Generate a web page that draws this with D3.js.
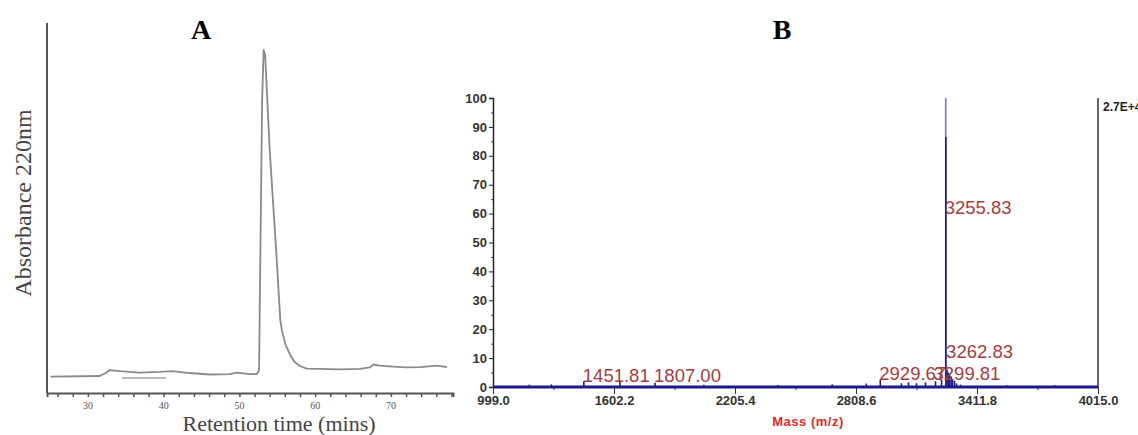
<!DOCTYPE html>
<html>
<head>
<meta charset="utf-8">
<script src="https://cdn.jsdelivr.net/npm/d3@7"></script>
<style>
  html, body { margin: 0; padding: 0; background: #fff; }
  svg { display: block; }
</style>
</head>
<body>
<svg id="fig" width="1138" height="435"></svg>
<script>
// ---- Panel A: HPLC chromatogram (absorbance at 220 nm vs retention time) ----
const retentionTime = [25.07, 31.56, 32.35, 32.9, 34.2, 36.8, 39.5, 41.1, 43.4, 46.1, 48.7, 49.7, 51.4, 52.3,
  52.6, 52.7, 52.85, 53.0, 53.2, 53.4, 54.0, 54.85, 55.4, 55.6, 56.1, 56.7, 57.3, 58.0, 58.9, 60.6,
  63.3, 65.9, 67.2, 67.7, 68.5, 69.8, 71.9, 73.9, 76.1, 77.4];
const absorbance = [4.4, 4.6, 5.4, 6.2, 5.9, 5.5, 5.7, 5.9, 5.4, 5.0, 5.1, 5.5, 5.1, 5.1,
  6.2, 25, 52, 79, 92.7, 91.4, 65.7, 38.6, 19.7, 17, 13, 10.3, 8.4, 7.3, 6.6, 6.5,
  6.4, 6.5, 6.9, 7.7, 7.4, 7.2, 6.9, 7.0, 7.4, 7.0];
const timeTickLabels = [30, 40, 50, 60, 70];
const timeMinorTicks = d3.range(26, 79, 2);
const baselineMarkTime = [34.5, 40.3];
const baselineMarkLevel = 4.05;

// ---- Panel B: mass spectrum (relative intensity vs m/z) ----
const massTickLabels = ["999.0", "1602.2", "2205.4", "2808.6", "3411.8", "4015.0"];
const intensityTicks = [0, 10, 20, 30, 40, 50, 60, 70, 80, 90, 100];
const peakMz = [1180, 1290, 1451.81, 1632, 1807.00, 2050, 2420, 2690, 2860, 2929.67, 3035, 3070, 3110,
  3155, 3205, 3235, 3262.83, 3268, 3275, 3283, 3290, 3299.81, 3310, 3330, 3560, 3800];
const peakIntensity = [0.8, 0.9, 2.0, 1.8, 1.5, 0.8, 0.7, 0.9, 1.2, 2.5, 1.3, 1.6, 1.3,
  1.6, 2.0, 2.6, 6.0, 5.0, 4.6, 3.6, 2.8, 2.2, 1.2, 0.8, 0.6, 0.6];
const basePeakMz = 3255.83;
const basePeakIntensity = 100;
const shoulderMz = 3256.6;
const shoulderIntensity = 86.5;
const labelMz = [1451.81, 1807.00, 2929.67, 3299.81, 3262.83, 3255.83];
const labelLevel = [1.7, 1.7, 2.4, 2.4, 10, 60];
const scaleNote = "2.7E+4";

const svg = d3.select("#fig");

// ================= Panel A =================
const xA = d3.scaleLinear().domain([24.6, 78.2]).range([47, 453]);
const yA = d3.scaleLinear().domain([0, 100]).range([393, 23]);
const gA = svg.append("g");

gA.append("line").attr("x1", xA(24.6)).attr("x2", xA(24.6))
  .attr("y1", yA(100)).attr("y2", yA(0))
  .attr("stroke", "#555").attr("stroke-width", 2);

const axA = gA.append("g").attr("transform", `translate(0,${yA(0)})`)
  .call(d3.axisBottom(xA).tickValues(timeMinorTicks).tickSize(4).tickFormat(""));
axA.select(".domain").attr("stroke", "#555").attr("stroke-width", 2);
axA.selectAll(".tick line").attr("stroke", "#555").attr("stroke-width", 1.5);

gA.append("g").selectAll("text").data(timeTickLabels).join("text")
  .attr("x", d => xA(d)).attr("y", 409)
  .attr("text-anchor", "middle")
  .attr("font-family", "Liberation Serif, serif").attr("font-size", 10)
  .attr("fill", "#555").text(d => d);

gA.append("path")
  .datum(d3.zip(retentionTime, absorbance))
  .attr("fill", "none").attr("stroke", "#8a8a8a").attr("stroke-width", 1.8)
  .attr("stroke-linejoin", "round")
  .attr("d", d3.line().x(d => xA(d[0])).y(d => yA(d[1])));

gA.append("line")
  .attr("x1", xA(baselineMarkTime[0])).attr("x2", xA(baselineMarkTime[1]))
  .attr("y1", yA(baselineMarkLevel)).attr("y2", yA(baselineMarkLevel))
  .attr("stroke", "#777").attr("stroke-width", 1);

gA.append("text").attr("x", 201).attr("y", 39).attr("text-anchor", "middle")
  .attr("font-family", "Liberation Serif, serif").attr("font-weight", "bold")
  .attr("font-size", 28).attr("fill", "#000").text("A");

gA.append("text").attr("transform", "translate(31,203) rotate(-90)")
  .attr("text-anchor", "middle")
  .attr("font-family", "Liberation Serif, serif").attr("font-size", 24)
  .attr("fill", "#444").text("Absorbance 220nm");

gA.append("text").attr("x", 279).attr("y", 431).attr("text-anchor", "middle")
  .attr("font-family", "Liberation Serif, serif").attr("font-size", 22)
  .attr("fill", "#444").text("Retention time (mins)");

// ================= Panel B =================
const xB = d3.scaleLinear().domain([999.0, 4015.0]).range([493, 1098]);
const yB = d3.scaleLinear().domain([0, 100]).range([387, 98]);
const gB = svg.append("g");

// left intensity axis
const axBy = gB.append("g").attr("transform", `translate(${xB(999)},0)`)
  .call(d3.axisLeft(yB).tickValues(intensityTicks).tickSize(4).tickPadding(2).tickFormat(d3.format("d")));
axBy.select(".domain").attr("stroke", "#222").attr("stroke-width", 1.5);
axBy.selectAll(".tick line").attr("stroke", "#222");
axBy.selectAll(".tick text").attr("font-family", "Liberation Sans, Arial, sans-serif")
  .attr("font-weight", "bold").attr("font-size", 13).attr("fill", "#333");
gB.append("g").attr("transform", `translate(${xB(999)},0)`)
  .call(d3.axisLeft(yB).tickValues(d3.range(5, 100, 10)).tickSize(2).tickFormat(""))
  .call(g => g.select(".domain").remove())
  .selectAll("line").attr("stroke", "#444");

// right frame line
gB.append("line").attr("x1", xB(4015)).attr("x2", xB(4015))
  .attr("y1", yB(100)).attr("y2", yB(0))
  .attr("stroke", "#333").attr("stroke-width", 1.5);

// mass axis
const massVals = massTickLabels.map(Number);
const axBx = gB.append("g").attr("transform", `translate(0,${yB(0)})`)
  .call(d3.axisBottom(xB).tickValues(massVals).tickSize(7).tickPadding(2).tickFormat((d, i) => massTickLabels[i]));
axBx.select(".domain").remove();
axBx.selectAll(".tick line").attr("stroke", "#333");
axBx.selectAll(".tick text").attr("font-family", "Liberation Sans, Arial, sans-serif")
  .attr("font-weight", "bold").attr("font-size", 13).attr("fill", "#333");
const minorMass = d3.range(5).map(i => (massVals[i] + massVals[i + 1]) / 2);
gB.append("g").attr("transform", `translate(0,${yB(0)})`)
  .call(d3.axisBottom(xB).tickValues(minorMass).tickSize(3).tickFormat(""))
  .call(g => g.select(".domain").remove())
  .selectAll("line").attr("stroke", "#333");

// spectrum: small peaks, base line, main peak
gB.append("g").selectAll("line").data(d3.zip(peakMz, peakIntensity)).join("line")
  .attr("x1", d => xB(d[0])).attr("x2", d => xB(d[0]))
  .attr("y1", yB(0)).attr("y2", d => yB(d[1]))
  .attr("stroke", "#1b1b8a").attr("stroke-width", 1.6);

gB.append("line").attr("x1", xB(999)).attr("x2", xB(4015))
  .attr("y1", yB(0)).attr("y2", yB(0))
  .attr("stroke", "#1b1b8a").attr("stroke-width", 3);

gB.append("line").attr("x1", xB(basePeakMz)).attr("x2", xB(basePeakMz))
  .attr("y1", yB(0)).attr("y2", yB(basePeakIntensity))
  .attr("stroke", "#6a78d8").attr("stroke-width", 1.6);
gB.append("line").attr("x1", xB(shoulderMz)).attr("x2", xB(shoulderMz))
  .attr("y1", yB(0)).attr("y2", yB(shoulderIntensity))
  .attr("stroke", "#1b1b8a").attr("stroke-width", 1.6);

// peak labels
const labelNudge = { "3299.81": -20 };
gB.append("g").selectAll("text").data(d3.zip(labelMz, labelLevel)).join("text")
  .attr("x", d => xB(d[0]) - 1 + (labelNudge[d[0].toFixed(2)] || 0))
  .attr("y", d => yB(d[1]))
  .attr("font-family", "Liberation Sans, Arial, sans-serif").attr("font-size", 18.5)
  .attr("fill", "#a63c3f").text(d => d[0].toFixed(2));

gB.append("text").attr("x", xB(4015) + 5).attr("y", 111)
  .attr("font-family", "Liberation Sans, Arial, sans-serif").attr("font-weight", "bold")
  .attr("font-size", 12).attr("fill", "#222").text(scaleNote);

gB.append("text").attr("x", 808).attr("y", 426).attr("text-anchor", "middle")
  .attr("font-family", "Liberation Sans, Arial, sans-serif").attr("font-weight", "bold")
  .attr("font-size", 13).attr("letter-spacing", 0.5).attr("fill", "#e8262a").text("Mass (m/z)");

gB.append("text").attr("x", 782).attr("y", 39).attr("text-anchor", "middle")
  .attr("font-family", "Liberation Serif, serif").attr("font-weight", "bold")
  .attr("font-size", 28).attr("fill", "#000").text("B");
</script>
</body>
</html>
